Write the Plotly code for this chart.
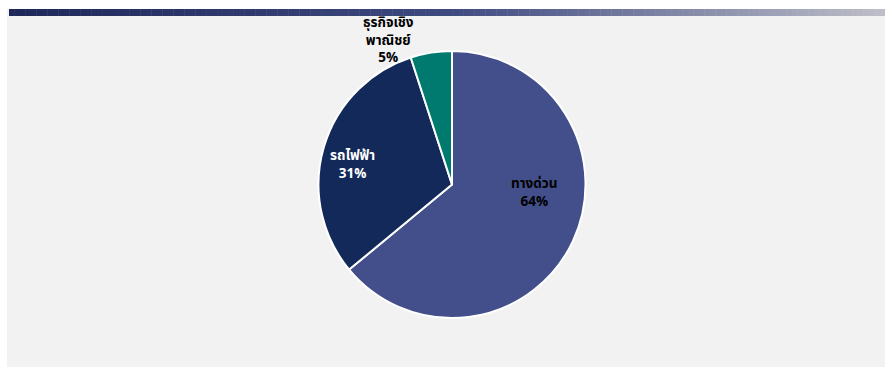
import plotly.graph_objects as go

# Revenue share by business line
categories = ["ทางด่วน", "รถไฟฟ้า", "ธุรกิจเชิง<br>พาณิชย์"]
shares = [64, 31, 5]
slice_colors = ["#434f8a", "#13295a", "#007a6e"]
label_colors = ["#000000", "#ffffff", "#000000"]
# label anchor offsets from the pie centre, in pixels (right, up)
label_offsets = [(82, -9), (-100, 20), (-64, 144)]

W, H = 885, 367
CX, CY, R = 452, 184.5, 133.5
FONT = "Tahoma, 'Noto Sans Thai', 'Noto Sans', sans-serif"

fig = go.Figure()
fig.add_trace(go.Pie(
    labels=categories,
    values=shares,
    sort=False,
    direction="clockwise",
    rotation=0,
    marker=dict(colors=slice_colors, line=dict(color="#ffffff", width=2)),
    textinfo="none",
    showlegend=False,
    hoverinfo="label+percent",
    domain=dict(x=[(CX - R) / W, (CX + R) / W],
                y=[(H - CY - R) / H, (H - CY + R) / H]),
))

total = sum(shares)
annotations = []
for name, val, col, (ox, oy) in zip(categories, shares, label_colors, label_offsets):
    pct = round(100 * val / total)
    annotations.append(dict(
        xref="paper", yref="paper",
        x=(CX + ox) / W, y=(H - CY + oy) / H,
        text="<b>%s<br>%d%%</b>" % (name, pct),
        showarrow=False, align="center",
        xanchor="center", yanchor="middle",
        font=dict(family=FONT, size=13.5, color=col),
    ))

shapes = [
    # light panel behind the chart
    dict(type="rect", xref="paper", yref="paper", layer="below",
         x0=7 / W, x1=1, y0=0, y1=(H - 9) / H,
         fillcolor="#f2f2f2", line=dict(width=0)),
]

# gradient header band built from thin strips
def lerp(c1, c2, t):
    return tuple(round(a + (b - a) * t) for a, b in zip(c1, c2))

stops = [(0.0, (30, 40, 88)), (0.5, (62, 73, 128)), (1.0, (190, 191, 200))]
n = 160
x_start, x_end = 9 / W, 1.0
for i in range(n):
    t = (i + 0.5) / n
    for (p0, c0), (p1, c1) in zip(stops[:-1], stops[1:]):
        if p0 <= t <= p1:
            rgb = lerp(c0, c1, (t - p0) / (p1 - p0))
            break
    xa = x_start + (x_end - x_start) * i / n
    xb = x_start + (x_end - x_start) * (i + 1) / n + 0.0005
    shapes.append(dict(type="rect", xref="paper", yref="paper", layer="below",
                       x0=xa, x1=xb, y0=(H - 16) / H, y1=(H - 9) / H,
                       fillcolor="rgb(%d,%d,%d)" % rgb, line=dict(width=0)))

fig.update_layout(
    width=W, height=H,
    margin=dict(l=0, r=0, t=0, b=0),
    paper_bgcolor="#ffffff",
    plot_bgcolor="#ffffff",
    shapes=shapes,
    annotations=annotations,
    font=dict(family=FONT),
)

fig.write_html("out.html")
